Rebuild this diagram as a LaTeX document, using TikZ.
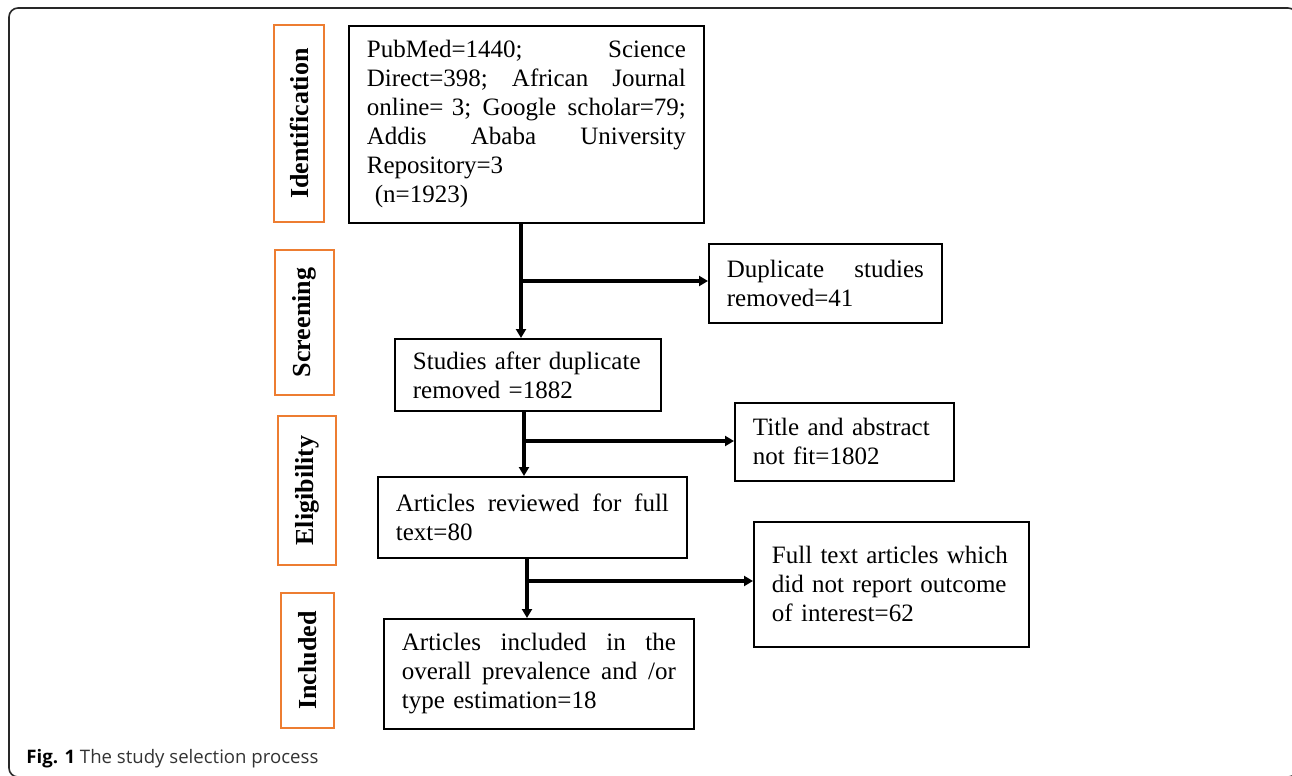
\documentclass[tikz,border=0pt]{standalone}
\usepackage{fontspec}
\setmainfont{Liberation Serif}
\newfontfamily\capfont{Open Sans}
\usetikzlibrary{arrows.meta}
\definecolor{stageorange}{RGB}{237,125,49}
\definecolor{framegray}{RGB}{40,40,40}
\hyphenpenalty=10000
\tikzset{
	box/.style={draw, line width=0.9pt, anchor=north west, inner xsep=9pt, inner ysep=0pt, align=left, font=\fontsize{12.5}{14.5}\selectfont},
	stage/.style={draw=stageorange, line width=1pt, rotate=90, inner sep=0pt, font=\fontsize{13}{15}\selectfont\bfseries},
	flow/.style={line width=2pt, -{Triangle[length=4.5pt,width=5pt]}}
}
\begin{document}
\begin{tikzpicture}[x=0.5pt, y=-0.5pt]
		%%%%% START %%%%%
		\useasboundingbox (0, 0) rectangle (1292, 776);
		
		\draw[framegray, line width=0.8pt, rounded corners=4.5pt] (9, 8) rectangle (1297, 777);
		
		% stage labels
		\node[stage, minimum width=98.5pt, minimum height=25pt] (ident) at (299, 123.5) {Identification};
		\node[stage, minimum width=72.5pt, minimum height=29.5pt] (screen) at (304.5, 322.5) {Screening};
		\node[stage, minimum width=74.5pt, minimum height=29pt] (elig) at (307, 490.5) {Eligibility};
		\node[stage, minimum width=67.5pt, minimum height=26.5pt] (incl) at (307.5, 660.5) {Included};
		
		% main column
		\node[box, text width=159.5pt, minimum height=98.5pt] (src) at (348, 25) {PubMed=1440;\hfill Science\\Direct=398;\hfill African\hfill Journal\\online= 3;\hfill Google\hfill scholar=79;\\Addis\hfill Ababa\hfill University\\Repository=3\\\hspace*{4pt}(n=1923)};
		\node[box, text width=115pt, minimum height=36pt] (after) at (394, 338) {Studies after duplicate\\removed =1882};
		\node[box, text width=136.5pt, minimum height=40.5pt] (rev) at (377, 476) {Articles\hfill reviewed\hfill for\hfill full\\text=80};
		\node[box, text width=137pt, minimum height=55pt] (incbox) at (383, 618) {Articles\hfill included\hfill in\hfill the\\overall\hfill prevalence\hfill and\hfill /or\\type estimation=18};
		
		% excluded
		\node[box, text width=98.5pt, minimum height=39.5pt] (dup) at (708, 243) {Duplicate\hfill studies\\removed=41};
		\node[box, text width=91.5pt, minimum height=39pt] (title) at (734, 402) {Title and abstract\\not fit=1802};
		\node[box, text width=119.5pt, minimum height=62.5pt] (full) at (753, 521) {Full text articles which\\did not report outcome\\of interest=62};
		
		% connectors
		\coordinate (j1) at (521, 281);
		\coordinate (j2) at (524, 441);
		\coordinate (j3) at (527, 581);
		\draw[flow] (j1 |- src.south) -- (j1 |- after.north);
		\draw[flow] (j1) -- (j1 -| dup.west);
		\draw[flow] (j2 |- after.south) -- (j2 |- rev.north);
		\draw[flow] (j2) -- (j2 -| title.west);
		\draw[flow] (j3 |- rev.south) -- (j3 |- incbox.north);
		\draw[flow] (j3) -- (j3 -| full.west);
		
		\node[anchor=base west, inner sep=0pt, text=black!80, font=\capfont\fontsize{9.3}{11}\selectfont] (cap) at (26, 763) {\textcolor{black}{\bfseries Fig. 1} The study selection process};
		
		%%%%% END %%%%%
\end{tikzpicture}
\end{document}
